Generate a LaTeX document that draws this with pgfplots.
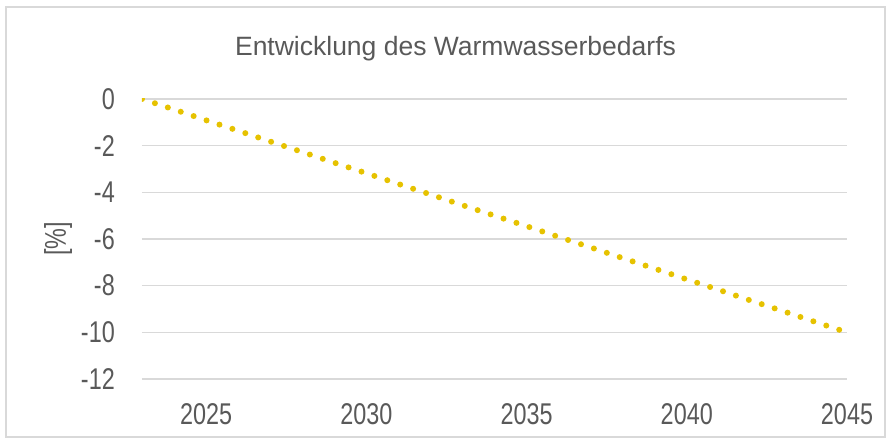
\documentclass[border=0pt]{standalone}
\usepackage{fontspec}
\setmainfont{Liberation Sans}
\newfontfamily\narrowfont{Liberation Sans}[FakeStretch=0.78]
\usepackage{pgfplots}
\pgfplotsset{compat=1.18}
\definecolor{txtgray}{RGB}{89,89,89}
\definecolor{gridgray}{RGB}{217,217,217}
\definecolor{gold}{RGB}{230,194,0}
\begin{document}
\begin{tikzpicture}
\begin{axis}[
    name=ax, at={(0pt,0pt)}, anchor=south west,
    width=705pt, height=280pt, scale only axis,
    xmin=2023, xmax=2045, ymin=-12, ymax=0,
    xtick={2025,2030,...,2045}, ytick={-12,-10,...,0},
    axis line style={draw=none}, major tick length=0pt,
    ymajorgrids, grid style={gridgray, line width=1.6pt},
    /pgf/number format/assume math mode=true,
    /pgf/number format/set thousands separator={},
    tick label style={font=\narrowfont\fontsize{30}{30}\selectfont, text=txtgray, inner sep=0pt},
    x tick label style={anchor=north, yshift=-24pt},
    y tick label style={anchor=east, xshift=-27pt},
    ylabel={[\%]},
    every axis y label/.style={at={(axis description cs:0,0.5)}, rotate=90, anchor=center, yshift=84pt,
        font=\narrowfont\fontsize{30}{30}\selectfont, text=txtgray},
    title={Entwicklung des Warmwasserbedarfs},
    every axis title/.style={at={(axis description cs:0.5,1)}, anchor=base, yshift=43pt, xshift=-39pt,
        font=\fontsize{26.5}{26.5}\selectfont, text=txtgray},
]
\addplot[gold, line width=6pt, line cap=round, dash pattern=on 0pt off 13.6pt] coordinates {
  (2023,0) (2024,-0.45) (2025,-0.91) (2026,-1.36) (2027,-1.82) (2028,-2.27)
  (2029,-2.73) (2030,-3.18) (2031,-3.64) (2032,-4.09) (2033,-4.55) (2034,-5.00)
  (2035,-5.45) (2036,-5.91) (2037,-6.36) (2038,-6.82) (2039,-7.27) (2040,-7.73)
  (2041,-8.18) (2042,-8.64) (2043,-9.09) (2044,-9.55) (2045,-10.00)};
\end{axis}
\draw[gridgray, line width=1.6pt] (-136pt,-58pt) rectangle (743pt,372pt);
\path (-142pt,-64pt) rectangle (749pt,379pt);
\end{tikzpicture}
\end{document}
